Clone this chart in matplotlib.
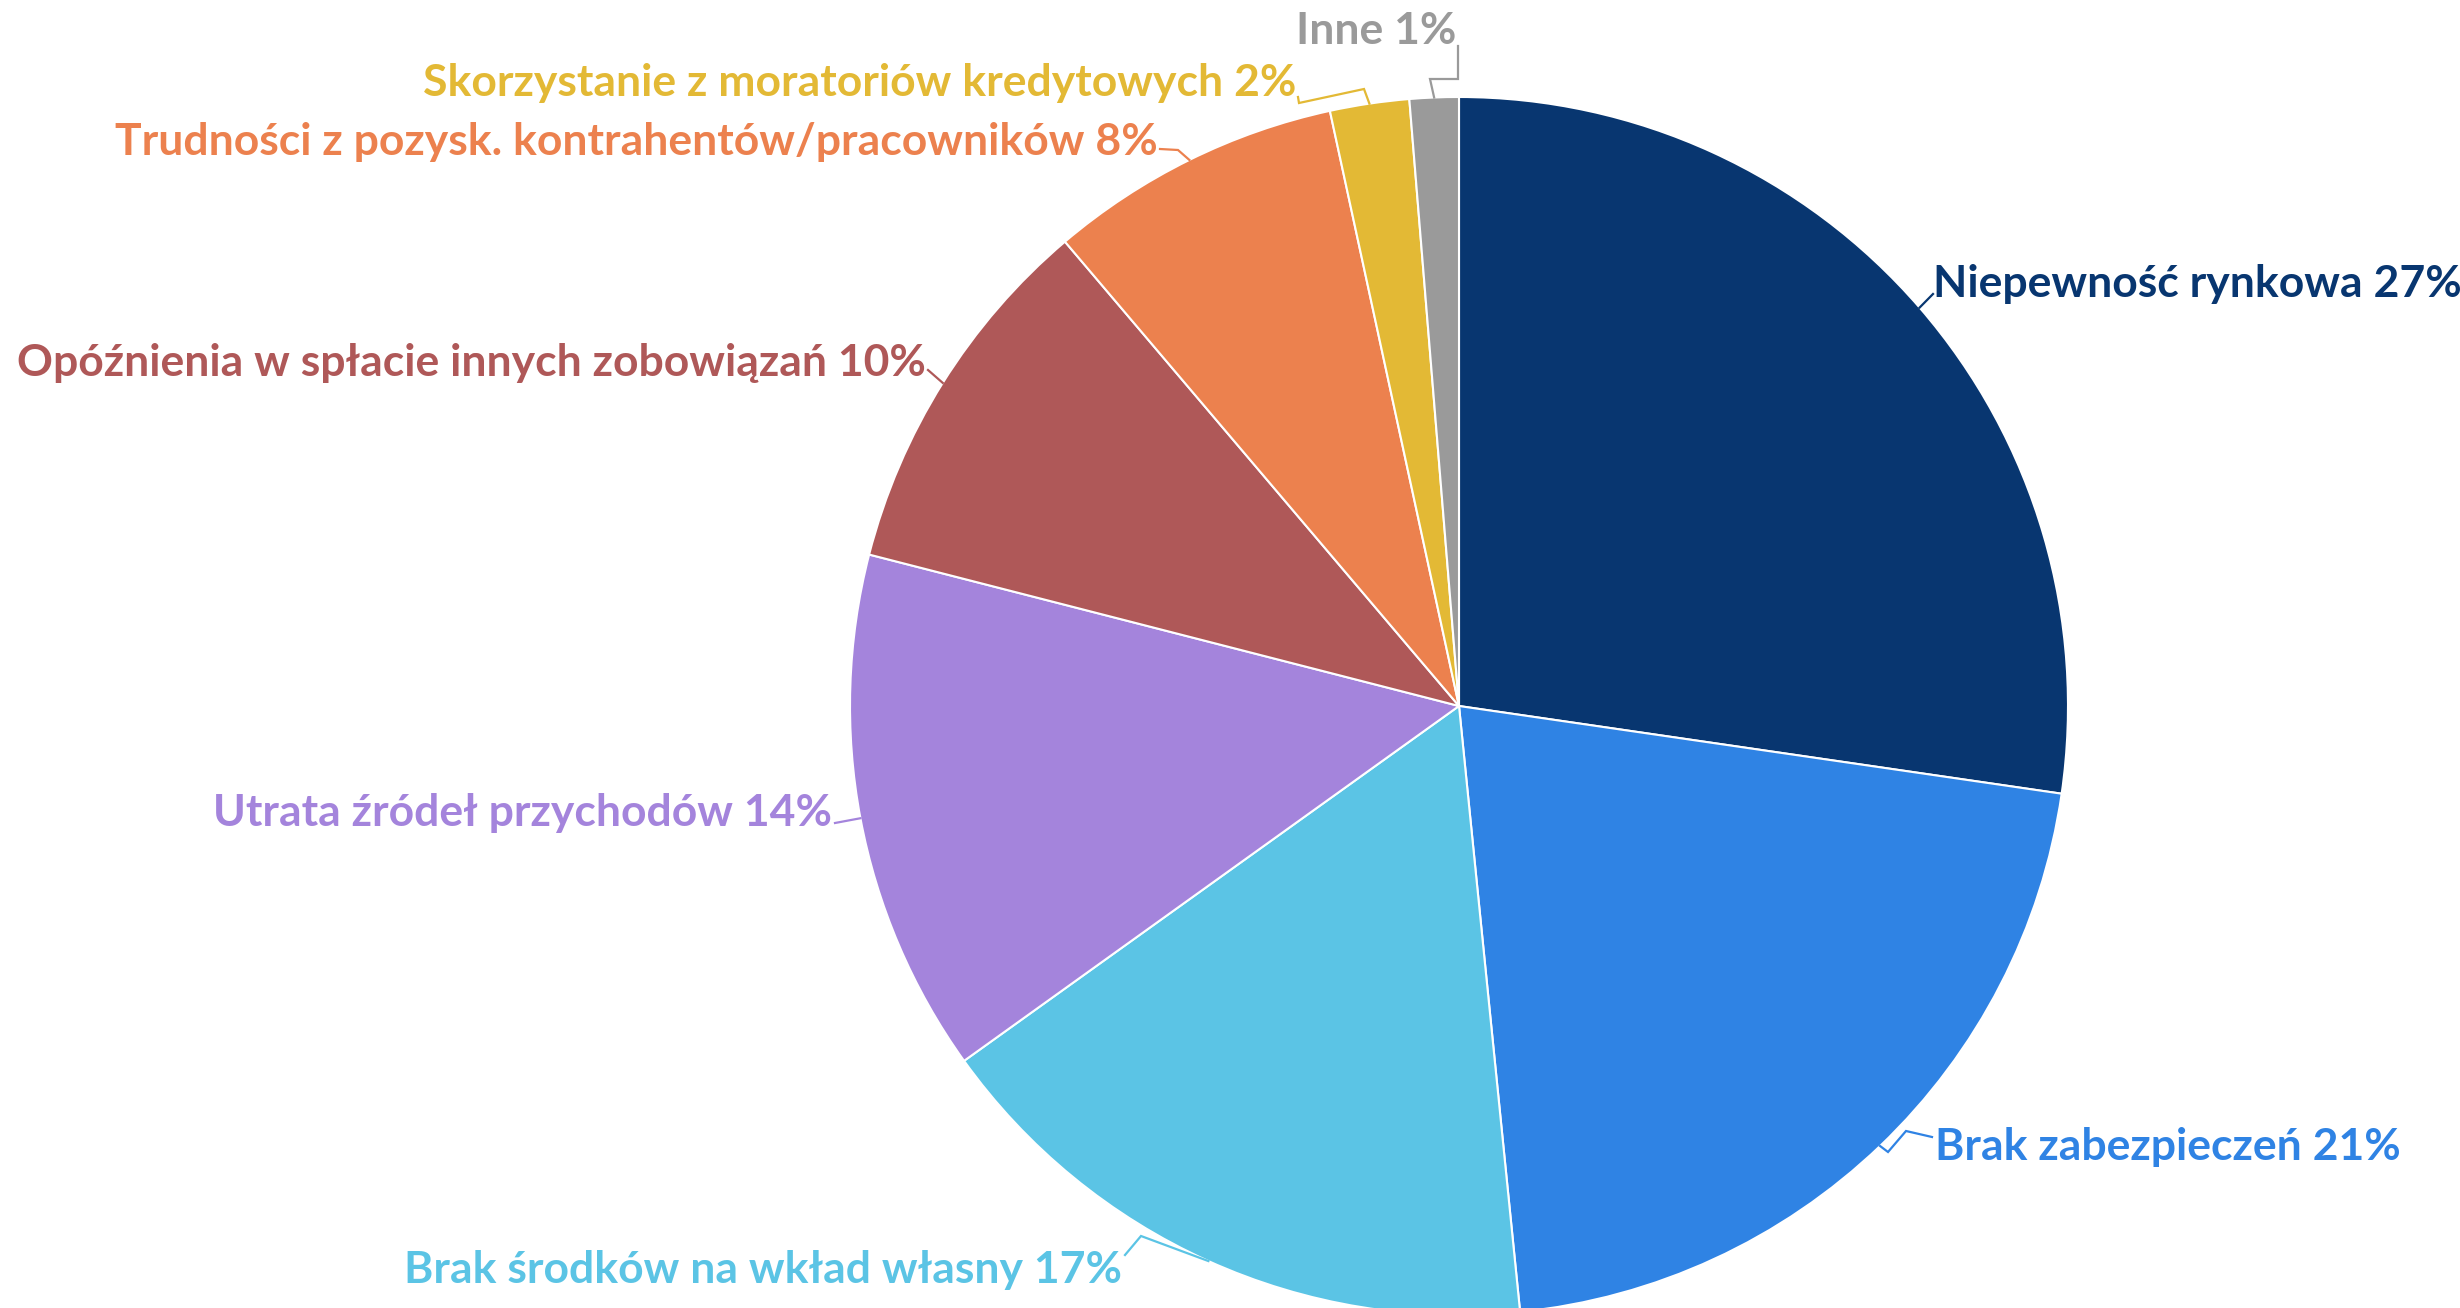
import matplotlib
matplotlib.use("Agg")
import matplotlib.pyplot as plt
import numpy as np

# dane
labels = ['Niepewność rynkowa', 'Brak zabezpieczeń', 'Brak środków na wkład własny',
          'Utrata źródeł przychodów', 'Opóźnienia w spłacie innych zobowiązań',
          'Trudności z pozysk. kontrahentów/pracowników',
          'Skorzystanie z moratoriów kredytowych', 'Inne']
shares = [27.3, 21.1, 16.7, 13.9, 9.8, 7.8, 2.1, 1.3]
pct_labels = [27, 21, 17, 14, 10, 8, 2, 1]
colors = ['#083670', '#2f83e4', '#5bc4e5', '#a484dc', '#af5858', '#ec814e', '#e3b935', '#9a9a9a']

W, H = 2460, 1308
CX, CY, R = 1459, 706, 609  # piksele, y od góry

# położenie etykiet (x kotwicy, linia bazowa, wyrównanie) i załamania linii odniesienia
label_pos = [(1933, 297, 'left'), (1935, 1160, 'left'), (1122, 1283, 'right'),
             (832, 826, 'right'), (926, 376, 'right'), (1158, 155, 'right'),
             (1296, 96, 'right'), (1456, 44, 'right')]
elbows = [
    [(1933, 294)],
    [(1888, 1152), (1906, 1131), (1932, 1137)],
    [(1141, 1236), (1125, 1255)],
    [(835, 823)],
    [(928, 370)],
    [(1178, 150), (1160, 149)],
    [(1364, 89), (1299, 103), (1298, 97)],
    [(1430, 79), (1458, 79), (1458, 46)],
]

plt.rcParams['font.family'] = ['Lato', 'DejaVu Sans']

fig = plt.figure(figsize=(W / 100, H / 100), dpi=100)
ax = fig.add_axes([0, 0, 1, 1])

ax.pie(shares, colors=colors, startangle=90, counterclock=False,
       center=(CX, H - CY), radius=R,
       wedgeprops=dict(edgecolor='white', linewidth=1.5))
ax.set_xlim(0, W)
ax.set_ylim(0, H)
ax.set_aspect('auto')
ax.axis('off')

# linie odniesienia ze środka łuku każdego wycinka
total = sum(shares)
start = 90.0
for i, s in enumerate(shares):
    span = 360.0 * s / total
    mid = np.deg2rad(start - span / 2)
    start -= span
    ex = CX + R * np.cos(mid)
    ey = CY - R * np.sin(mid)
    pts = [(ex, ey)] + elbows[i]
    xs = [p[0] for p in pts]
    ys = [H - p[1] for p in pts]
    ax.plot(xs, ys, color=colors[i], lw=1.6, solid_joinstyle='miter')

    x, y, ha = label_pos[i]
    ax.text(x, H - y, f'{labels[i]} {pct_labels[i]}%', color=colors[i],
            fontsize=32, fontweight='bold', ha=ha, va='baseline')

fig.savefig('out.png', dpi=100, facecolor='white')
